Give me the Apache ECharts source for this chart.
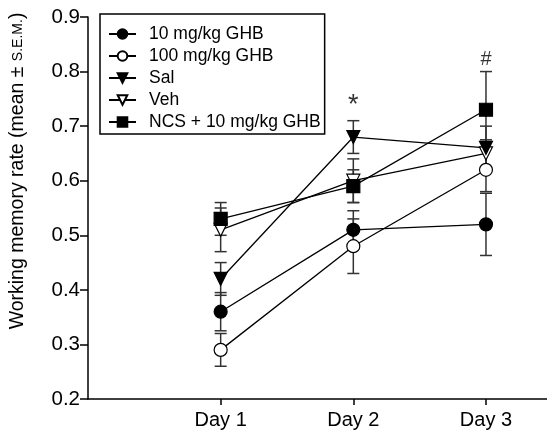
<!DOCTYPE html>
<html lang="en">
<head>
    <meta charset="UTF-8">
    <title>Working memory rate</title>
    <script src="https://cdn.jsdelivr.net/npm/echarts@6/dist/echarts.min.js"></script>
    <style>
        html, body { margin: 0; padding: 0; background: #fff; }
        #chart { width: 547px; height: 435px; }
    </style>
</head>
<body>
<div id="chart"></div>
<script type="text/javascript">
    // tick labels and day positions
    var days = ['Day 1', 'Day 2', 'Day 3'];
    var dayX = [1, 2, 3];

    // group means and S.E.M.
    var g10 = [0.36, 0.51, 0.52];
    var g10Err = [0.035, 0.035, 0.057];
    var g100 = [0.29, 0.48, 0.62];
    var g100Err = [0.03, 0.05, 0.04];
    var sal = [0.42, 0.68, 0.66];
    var salErr = [0.03, 0.03, 0.04];
    var veh = [0.51, 0.60, 0.65];
    var vehErr = [0.04, 0.04, 0.025];
    var ncs = [0.53, 0.59, 0.73];
    var ncsErr = [0.03, 0.03, 0.07];

    // significance marks
    var marks = [[2, 0.738, '*'], [3, 0.822, '#']];

    var font = 'Liberation Sans, Arial, sans-serif';

    var chart = echarts.init(document.getElementById('chart'));

    function pts(vals) {
        return vals.map(function (v, i) { return [dayX[i], v]; });
    }
    function bars(vals, errs) {
        return vals.map(function (v, i) { return [dayX[i], v - errs[i], v + errs[i]]; });
    }

    function errSeries(vals, errs) {
        return {
            type: 'custom',
            z: 1,
            silent: true,
            data: bars(vals, errs),
            renderItem: function (params, api) {
                var lo = api.coord([api.value(0), api.value(1)]);
                var hi = api.coord([api.value(0), api.value(2)]);
                var w = 6;
                var st = { stroke: '#333', lineWidth: 1.5 };
                return {
                    type: 'group',
                    children: [
                        { type: 'line', shape: { x1: lo[0], y1: lo[1], x2: hi[0], y2: hi[1] }, style: st },
                        { type: 'line', shape: { x1: lo[0] - w, y1: lo[1], x2: lo[0] + w, y2: lo[1] }, style: st },
                        { type: 'line', shape: { x1: hi[0] - w, y1: hi[1], x2: hi[0] + w, y2: hi[1] }, style: st }
                    ]
                };
            }
        };
    }

    function lineSeries(name, vals, symbol, filled, rotate) {
        return {
            name: name,
            type: 'line',
            z: 3,
            data: pts(vals),
            symbol: symbol,
            symbolSize: 13,
            symbolRotate: rotate || 0,
            showAllSymbol: true,
            lineStyle: { color: '#000', width: 1.3 },
            itemStyle: {
                color: filled ? '#000' : '#fff',
                borderColor: '#000',
                borderWidth: 1.2,
                opacity: 1
            }
        };
    }

    var option = {
        animation: false,
        backgroundColor: '#fff',
        grid: { left: 88, top: 17, right: 0, bottom: 36 },
        legend: {
            orient: 'vertical',
            left: 100,
            top: 14,
            padding: [11, 4, 3, 8],
            borderColor: '#000',
            borderWidth: 1.5,
            itemWidth: 27,
            itemHeight: 12,
            itemGap: 4,
            textStyle: { fontSize: 17.5, color: '#000', fontFamily: font, lineHeight: 17, padding: [0, 0, 0, 8] },
            data: ['10 mg/kg GHB', '100 mg/kg GHB', 'Sal', 'Veh', 'NCS + 10 mg/kg GHB']
        },
        xAxis: {
            type: 'value',
            min: 0,
            max: 3.46,
            interval: 1,
            splitLine: { show: false },
            axisLine: { lineStyle: { color: '#000', width: 1.5 } },
            axisTick: { customValues: dayX, length: 6, lineStyle: { color: '#000', width: 1.5 } },
            axisLabel: {
                customValues: dayX,
                margin: 11,
                fontSize: 20,
                color: '#000',
                fontFamily: font,
                formatter: function (v) { return days[Math.round(v) - 1] || ''; }
            }
        },
        yAxis: {
            type: 'value',
            min: 0.2,
            max: 0.9,
            interval: 0.1,
            splitLine: { show: false },
            axisLine: { show: true, lineStyle: { color: '#000', width: 1.5 } },
            axisTick: { show: true, length: 8, lineStyle: { color: '#000', width: 1.5 } },
            axisLabel: {
                margin: 8,
                fontSize: 20.5,
                color: '#000',
                fontFamily: font,
                formatter: function (v) { return v.toFixed(1); }
            }
        },
        graphic: [{
            type: 'text',
            x: 18,
            y: 171,
            rotation: Math.PI / 2,
            style: {
                text: '{a|Working memory rate (mean ± }{b|S.E.M.}{a|)}',
                align: 'center',
                verticalAlign: 'middle',
                fill: '#000',
                rich: {
                    a: { fontSize: 19.5, fontFamily: font, fill: '#000' },
                    b: { fontSize: 14, fontFamily: font, fill: '#000' }
                }
            }
        }],
        series: [
            errSeries(g10, g10Err),
            errSeries(g100, g100Err),
            errSeries(sal, salErr),
            errSeries(veh, vehErr),
            errSeries(ncs, ncsErr),
            lineSeries('10 mg/kg GHB', g10, 'circle', true),
            lineSeries('100 mg/kg GHB', g100, 'circle', false),
            lineSeries('Veh', veh, 'triangle', false, 180),
            lineSeries('Sal', sal, 'triangle', true, 180),
            lineSeries('NCS + 10 mg/kg GHB', ncs, 'rect', true),
            {
                type: 'scatter',
                symbolSize: 0,
                silent: true,
                data: marks,
                label: {
                    show: true,
                    position: 'inside',
                    color: '#000',
                    fontFamily: font,
                    formatter: function (p) {
                        return p.data[2] === '*' ? '{s|*}' : '{h|#}';
                    },
                    rich: {
                        s: { fontSize: 27, fontFamily: font, color: '#000' },
                        h: { fontSize: 20, fontFamily: font, color: '#000' }
                    }
                }
            }
        ]
    };

    chart.setOption(option);
</script>
</body>
</html>
